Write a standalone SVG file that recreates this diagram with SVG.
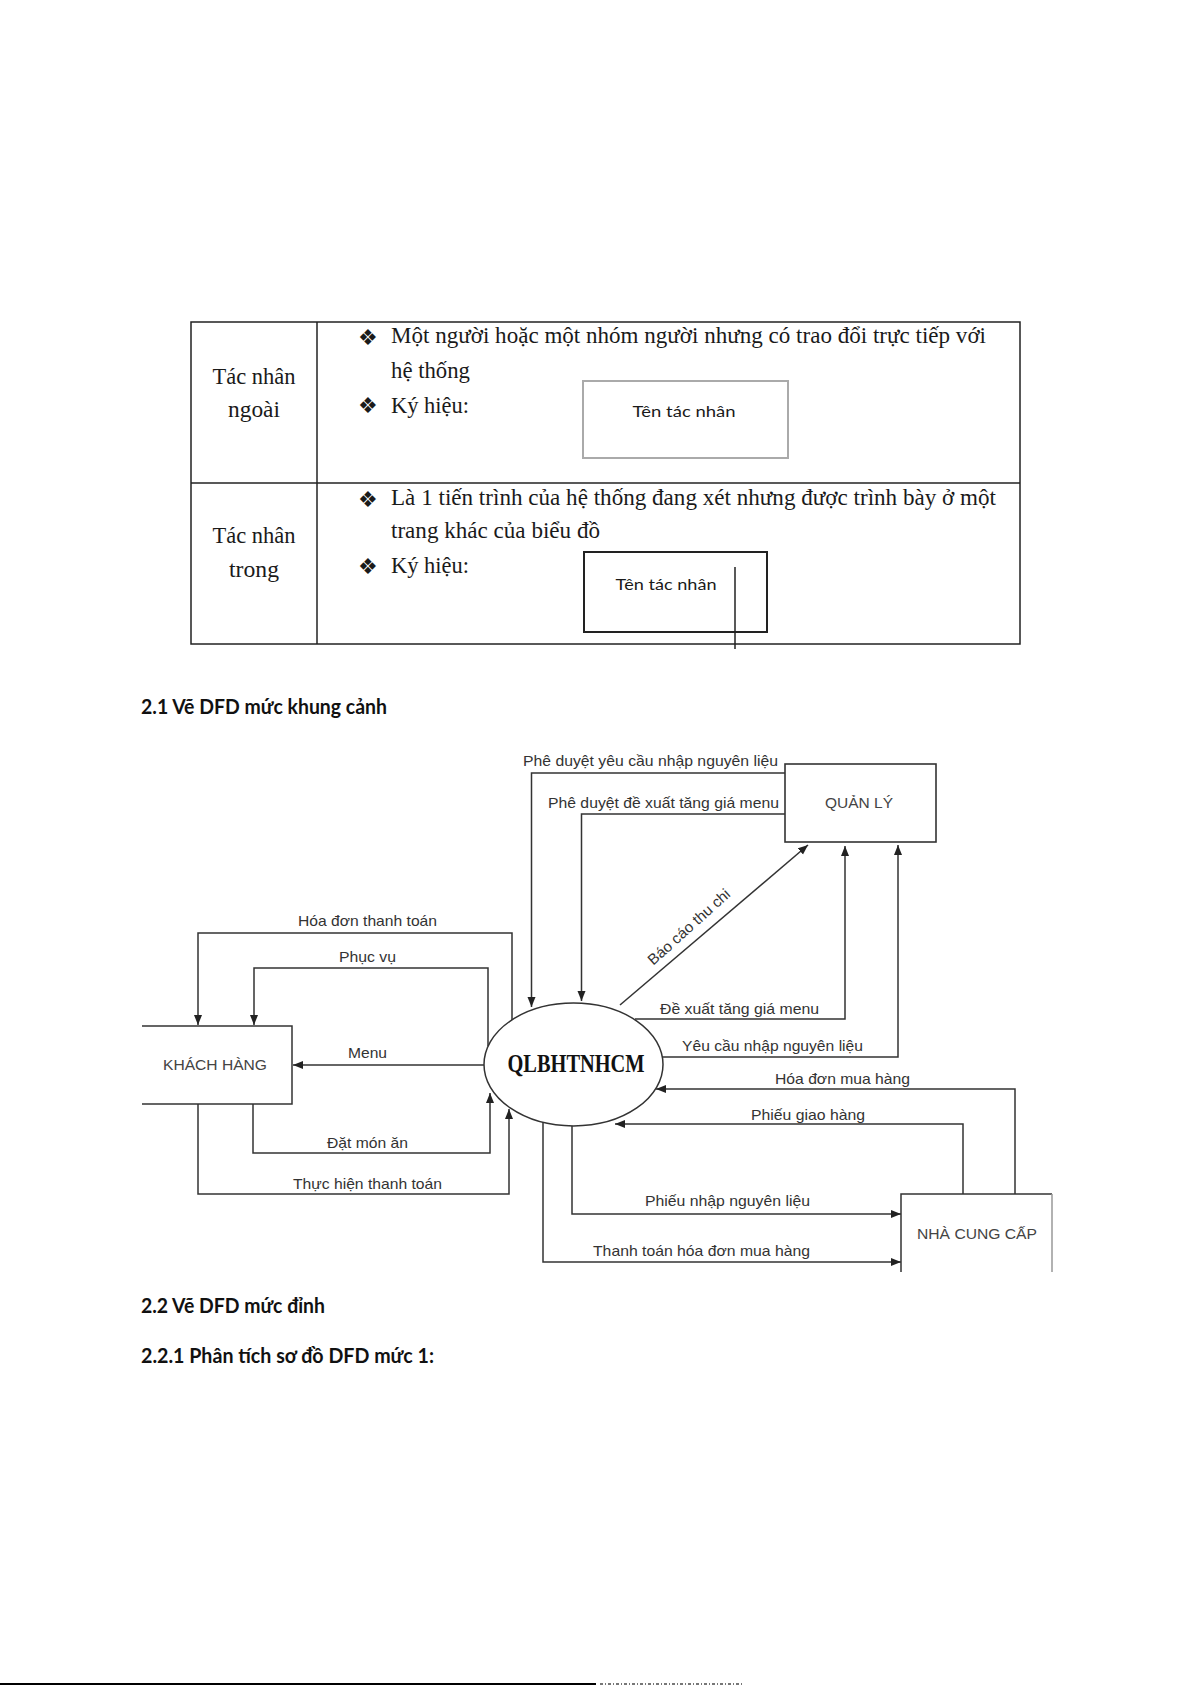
<svg xmlns="http://www.w3.org/2000/svg" width="1191" height="1685" viewBox="0 0 1191 1685">
<style>
.serif{font-family:"Liberation Serif","Times New Roman",serif;font-size:23px;fill:#1a1a1a}
.bul{font-family:"DejaVu Sans",sans-serif;font-size:22px;fill:#1a1a1a}
.cal{font-family:Lato,"Open Sans",sans-serif;font-size:16px;fill:#1a1a1a}
.head{font-family:Lato,"Open Sans",sans-serif;font-size:20px;font-weight:bold;fill:#111}
.lbl{font-family:"Liberation Sans",Arial,sans-serif;font-size:15px;fill:#333}
.ent{font-family:"Liberation Sans",Arial,sans-serif;font-size:15.5px;fill:#444}
.proc{font-family:"Liberation Serif","Courier New",serif;font-size:25px;font-weight:bold;fill:#111}
.tbl{fill:none;stroke:#222;stroke-width:1.5}
.edge{fill:none;stroke:#333;stroke-width:1.5}
.box{fill:#fff;stroke:#333;stroke-width:1.6}
</style>
<defs>
<marker id="arr" markerUnits="userSpaceOnUse" markerWidth="11" markerHeight="9" refX="10" refY="4" orient="auto">
<path d="M0,0 L10,4 L0,8 z" fill="#222"/>
</marker>
</defs>
<rect width="1191" height="1685" fill="#fff"/>

<g id="table">
<rect class="tbl" x="191" y="322" width="829" height="322"/>
<line class="tbl" x1="317" y1="322" x2="317" y2="644"/>
<line class="tbl" x1="191" y1="483" x2="1020" y2="483"/>
<text class="serif" x="254" y="384" text-anchor="middle" textLength="83" lengthAdjust="spacingAndGlyphs">Tác nhân</text>
<text class="serif" x="254" y="417" text-anchor="middle" textLength="52" lengthAdjust="spacingAndGlyphs">ngoài</text>
<text class="serif" x="254" y="543" text-anchor="middle" textLength="83" lengthAdjust="spacingAndGlyphs">Tác nhân</text>
<text class="serif" x="254" y="577" text-anchor="middle" textLength="50" lengthAdjust="spacingAndGlyphs">trong</text>
<text class="bul" x="358" y="345">❖</text>
<text class="serif" x="391" y="343" textLength="595" lengthAdjust="spacingAndGlyphs">Một người hoặc một nhóm người nhưng có trao đổi trực tiếp với</text>
<text class="serif" x="391" y="378" textLength="79" lengthAdjust="spacingAndGlyphs">hệ thống</text>
<text class="bul" x="358" y="413">❖</text>
<text class="serif" x="391" y="413" textLength="78" lengthAdjust="spacingAndGlyphs">Ký hiệu:</text>
<text class="bul" x="358" y="507">❖</text>
<text class="serif" x="391" y="505" textLength="605" lengthAdjust="spacingAndGlyphs">Là 1 tiến trình của hệ thống đang xét nhưng được trình bày ở một</text>
<text class="serif" x="391" y="538" textLength="209" lengthAdjust="spacingAndGlyphs">trang khác của biểu đồ</text>
<text class="bul" x="358" y="574">❖</text>
<text class="serif" x="391" y="573" textLength="78" lengthAdjust="spacingAndGlyphs">Ký hiệu:</text>
</g>

<g id="symbol-external">
<rect x="583" y="381" width="205" height="77" fill="#fff" stroke="#aaa" stroke-width="2"/>
<text class="cal" x="684" y="417" text-anchor="middle" textLength="103" lengthAdjust="spacingAndGlyphs">Tên tác nhân</text>
</g>
<g id="symbol-internal">
<rect x="584" y="552" width="183" height="80" fill="#fff" stroke="#222" stroke-width="2"/>
<text class="cal" x="666" y="590" text-anchor="middle" textLength="101" lengthAdjust="spacingAndGlyphs">Tên tác nhân</text>
<line x1="735" y1="567" x2="735" y2="649" stroke="#222" stroke-width="1.5"/>
</g>

<text class="head" x="141" y="714" textLength="246" lengthAdjust="spacingAndGlyphs">2.1 Vẽ DFD mức khung cảnh</text>

<g id="connectors">
<path class="edge" d="M786,773 H531.5 V1007" marker-end="url(#arr)"/>
<path class="edge" d="M786,814 H581.5 V1001" marker-end="url(#arr)"/>
<path class="edge" d="M620,1005 L808,845" marker-end="url(#arr)"/>
<path class="edge" d="M635,1019 H845 V846" marker-end="url(#arr)"/>
<path class="edge" d="M662,1057 H898 V845" marker-end="url(#arr)"/>
<path class="edge" d="M1015,1194 V1089 H656" marker-end="url(#arr)"/>
<path class="edge" d="M963,1194 V1124 H615" marker-end="url(#arr)"/>
<path class="edge" d="M572,1126 V1214 H901" marker-end="url(#arr)"/>
<path class="edge" d="M543,1122 V1262 H901" marker-end="url(#arr)"/>
<path class="edge" d="M512,1020 V933 H198 V1025" marker-end="url(#arr)"/>
<path class="edge" d="M488,1046 V968 H254 V1025" marker-end="url(#arr)"/>
<path class="edge" d="M484,1065 H293" marker-end="url(#arr)"/>
<path class="edge" d="M253,1104 V1153 H490 V1093" marker-end="url(#arr)"/>
<path class="edge" d="M198,1104 V1194 H509 V1109" marker-end="url(#arr)"/>

<text class="lbl" x="523" y="766" textLength="255" lengthAdjust="spacingAndGlyphs">Phê duyệt yêu cầu nhập nguyên liệu</text>
<text class="lbl" x="548" y="808" textLength="231" lengthAdjust="spacingAndGlyphs">Phê duyệt đề xuất tăng giá menu</text>
<text class="lbl" x="689" y="932" text-anchor="middle" textLength="105" lengthAdjust="spacingAndGlyphs" transform="rotate(-42 689 927)">Báo cáo thu chi</text>
<text class="lbl" x="660" y="1014" textLength="159" lengthAdjust="spacingAndGlyphs">Đề xuất tăng giá menu</text>
<text class="lbl" x="682" y="1051" textLength="181" lengthAdjust="spacingAndGlyphs">Yêu cầu nhập nguyên liệu</text>
<text class="lbl" x="775" y="1084" textLength="135" lengthAdjust="spacingAndGlyphs">Hóa đơn mua hàng</text>
<text class="lbl" x="751" y="1120" textLength="114" lengthAdjust="spacingAndGlyphs">Phiếu giao hàng</text>
<text class="lbl" x="645" y="1206" textLength="165" lengthAdjust="spacingAndGlyphs">Phiếu nhập nguyên liệu</text>
<text class="lbl" x="593" y="1256" textLength="217" lengthAdjust="spacingAndGlyphs">Thanh toán hóa đơn mua hàng</text>
<text class="lbl" x="298" y="926" textLength="139" lengthAdjust="spacingAndGlyphs">Hóa đơn thanh toán</text>
<text class="lbl" x="339" y="962" textLength="57" lengthAdjust="spacingAndGlyphs">Phục vụ</text>
<text class="lbl" x="348" y="1058" textLength="39" lengthAdjust="spacingAndGlyphs">Menu</text>
<text class="lbl" x="327" y="1148" textLength="81" lengthAdjust="spacingAndGlyphs">Đặt món ăn</text>
<text class="lbl" x="293" y="1189" textLength="149" lengthAdjust="spacingAndGlyphs">Thực hiện thanh toán</text>
</g>

<g id="node-quanly">
<rect class="box" x="785" y="764" width="151" height="78"/>
<text class="ent" x="859" y="808" text-anchor="middle" textLength="68" lengthAdjust="spacingAndGlyphs">QUẢN LÝ</text>
</g>

<g id="node-khachhang">
<rect x="142" y="1026" width="150" height="78" fill="#fff"/>
<path class="edge" d="M142,1026 H292 V1104 H142"/>
<text class="ent" x="215" y="1070" text-anchor="middle" textLength="104" lengthAdjust="spacingAndGlyphs">KHÁCH HÀNG</text>
</g>

<g id="node-process">
<ellipse cx="573.5" cy="1064.5" rx="89.5" ry="61.5" fill="#fff" stroke="#333" stroke-width="1.5"/>
<text class="proc" x="576" y="1072" text-anchor="middle" textLength="137" lengthAdjust="spacingAndGlyphs">QLBHTNHCM</text>
</g>

<g id="node-nhacungcap">
<rect x="901" y="1194" width="151" height="78" fill="#fff"/>
<path d="M901,1272 V1194 H1052" fill="none" stroke="#333" stroke-width="1.5"/>
<path d="M1052,1194 V1272" fill="none" stroke="#999" stroke-width="1.5"/>
<text class="ent" x="977" y="1239" text-anchor="middle" textLength="120" lengthAdjust="spacingAndGlyphs">NHÀ CUNG CẤP</text>
</g>

<text class="head" x="141" y="1313" textLength="184" lengthAdjust="spacingAndGlyphs">2.2 Vẽ DFD mức đỉnh</text>
<text class="head" x="141" y="1363" textLength="293" lengthAdjust="spacingAndGlyphs">2.2.1 Phân tích sơ đồ DFD mức 1:</text>

<g id="page-edge">
<rect x="0" y="1683" width="596" height="2" fill="#000"/>
<line x1="600" y1="1684" x2="744" y2="1684" stroke="#777" stroke-width="2" stroke-dasharray="3 2 1 2"/>
</g>
</svg>
